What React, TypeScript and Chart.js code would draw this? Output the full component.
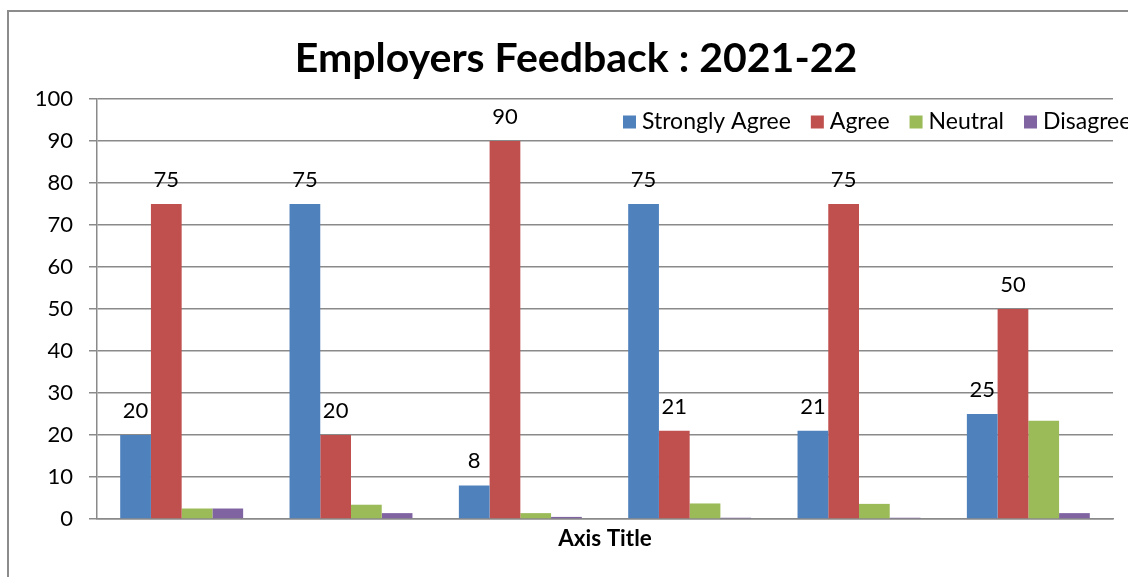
import React, { useEffect, useRef } from 'react';
import { Chart, registerables } from 'chart.js';

Chart.register(...registerables);

const categories = ['1', '2', '3', '4', '5', '6'];
const stronglyAgree = [20, 75, 8, 75, 21, 25];
const agree = [75, 20, 90, 21, 75, 50];
const neutral = [2.5, 3.4, 1.4, 3.7, 3.6, 23.4];
const disagree = [2.5, 1.4, 0.5, 0.3, 0.3, 1.4];
const seriesNames = ['Strongly Agree', 'Agree', 'Neutral', 'Disagree'];
const seriesColors = ['#4F81BD', '#C0504D', '#9BBB59', '#8064A2'];
const labeledSeries = [0, 1];
const chartTitle = 'Employers Feedback : 2021-22';
const xAxisTitle = 'Axis Title';

const FONT = 'Lato, "Open Sans", sans-serif';
const GRID = '#8a8a8a';

const valueLabelPlugin = {
  id: 'valueLabels',
  afterDatasetsDraw(chart: any) {
    const { ctx } = chart;
    ctx.save();
    ctx.font = `22px ${FONT}`;
    ctx.fillStyle = '#000';
    ctx.textAlign = 'center';
    ctx.textBaseline = 'middle';
    labeledSeries.forEach((di) => {
      const meta = chart.getDatasetMeta(di);
      const ds = chart.data.datasets[di];
      meta.data.forEach((bar: any, i: number) => {
        ctx.fillText(String(ds.data[i]), bar.x, bar.y - 24);
      });
    });
    ctx.restore();
  },
};

const insideLegendPlugin = {
  id: 'insideLegend',
  afterDraw(chart: any) {
    const { ctx, chartArea } = chart;
    ctx.save();
    ctx.font = `23px ${FONT}`;
    ctx.textBaseline = 'middle';
    ctx.textAlign = 'left';
    let x = chartArea.left + 526;
    const y = chartArea.top + 23;
    chart.data.datasets.forEach((ds: any) => {
      ctx.fillStyle = ds.backgroundColor;
      ctx.fillRect(x, y - 6.5, 13, 13);
      x += 19;
      ctx.fillStyle = '#000';
      ctx.fillText(ds.label, x, y);
      x += ctx.measureText(ds.label).width + 20;
    });
    ctx.restore();
  },
};

export default function App() {
  const canvasRef = useRef<HTMLCanvasElement | null>(null);

  useEffect(() => {
    if (!canvasRef.current) return;
    const values = [stronglyAgree, agree, neutral, disagree];
    const chart = new Chart(canvasRef.current, {
      type: 'bar',
      data: {
        labels: categories,
        datasets: values.map((v, i) => ({
          label: seriesNames[i],
          data: v,
          backgroundColor: seriesColors[i],
          borderWidth: 0,
          categoryPercentage: 0.726,
          barPercentage: 1,
        })),
      },
      options: {
        responsive: false,
        animation: false,
        layout: { padding: { left: 0, right: 0, top: 0, bottom: 47.5 } },
        plugins: {
          legend: { display: false },
          tooltip: { enabled: false },
          title: {
            display: true,
            text: chartTitle,
            color: '#000',
            font: { family: FONT, size: 41, weight: 'bold' },
            padding: { top: 22.4, bottom: 15.4 },
          },
        },
        scales: {
          x: {
            ticks: { display: false },
            grid: { display: false },
            border: { display: true, color: GRID, width: 1.5 },
            title: {
              display: true,
              text: xAxisTitle,
              color: '#000',
              font: { family: FONT, size: 22.5, weight: 'bold' },
              padding: 0,
            },
            afterFit: (s: any) => {
              s.height = 33.5;
            },
          },
          y: {
            min: 0,
            max: 100,
            ticks: {
              stepSize: 10,
              color: '#000',
              padding: 16,
              font: { family: FONT, size: 22 },
            },
            grid: { color: GRID, lineWidth: 1.5, tickLength: 8 },
            border: { display: true, color: GRID, width: 1.5 },
            afterFit: (s: any) => {
              s.width = 88;
            },
          },
          yRight: {
            position: 'right',
            display: true,
            ticks: { display: false },
            grid: { display: false, drawTicks: false },
            border: { display: false },
            afterFit: (s: any) => {
              s.width = 30;
            },
          },
        },
      } as any,
      plugins: [valueLabelPlugin, insideLegendPlugin],
    });
    return () => chart.destroy();
  }, []);

  return (
    <div
      style={{
        position: 'fixed',
        left: 0,
        top: 0,
        width: 1128,
        height: 577,
        overflow: 'hidden',
        background: '#fff',
      }}
    >
      <div
        style={{
          position: 'absolute',
          left: 7,
          top: 10,
          width: 1138,
          height: 592,
          border: '2px solid #8c8c8c',
          boxSizing: 'border-box',
          background: '#fff',
        }}
      >
        <canvas
          ref={canvasRef}
          width={1134}
          height={588}
          style={{ display: 'block', width: 1134, height: 588 }}
        />
      </div>
    </div>
  );
}
